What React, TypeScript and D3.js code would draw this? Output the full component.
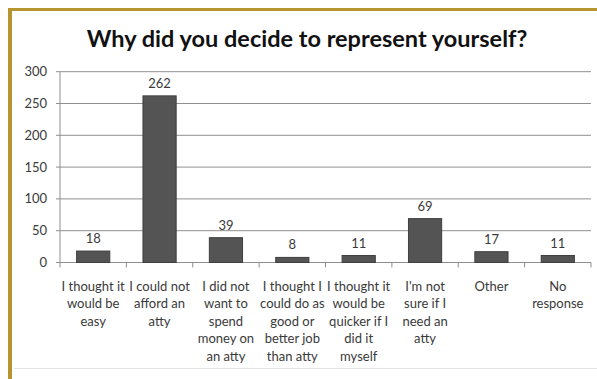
import React from "react";
import * as d3 from "d3";

const categories: string[][] = [
  ["I thought it", "would be", "easy"],
  ["I could not", "afford an", "atty"],
  ["I did not", "want to", "spend", "money on", "an atty"],
  ["I thought I", "could do as", "good or", "better job", "than atty"],
  ["I thought it", "would be", "quicker if I", "did it", "myself"],
  ["I'm not", "sure if I", "need an", "atty"],
  ["Other"],
  ["No", "response"],
];
const values: number[] = [18, 262, 39, 8, 11, 69, 17, 11];
const yTicks: number[] = [0, 50, 100, 150, 200, 250, 300];
const title = "Why did you decide to represent yourself?";

const W = 597;
const H = 379;
const plot = { left: 60, right: 591, top: 71.7, bottom: 262.5 };
const FONT = "Lato, 'Open Sans', sans-serif";

export default function App() {
  const keys = categories.map((_, i) => String(i));
  const x = d3
    .scaleBand<string>()
    .domain(keys)
    .range([plot.left, plot.right])
    .paddingInner(0.5)
    .paddingOuter(0.25);
  const xOuter = d3.scaleBand<string>().domain(keys).range([plot.left, plot.right]);
  const y = d3.scaleLinear().domain([0, 300]).range([plot.bottom, plot.top]);

  return (
    <svg
      width={W}
      height={H}
      style={{ position: "absolute", left: 0, top: 0, background: "#ffffff" }}
    >
      <rect x={0} y={0} width={W} height={H} fill="#ffffff" />
      {/* gold frame */}
      <rect x={8} y={8} width={W - 8} height={3} fill="#b69530" />
      <rect x={8} y={8} width={4} height={H - 8} fill="#b69530" />
      <line x1={14} x2={W} y1={368.5} y2={368.5} stroke="#e4e4e4" strokeWidth={1} />

      <text
        x={307}
        y={47}
        textAnchor="middle"
        fontFamily={FONT}
        fontWeight={700}
        fontSize={23.5}
        fill="#111"
      >
        {title}
      </text>

      {/* gridlines */}
      {yTicks.map((t) => (
        <g key={t}>
          {t > 0 && (
            <line
              x1={plot.left}
              x2={plot.right}
              y1={y(t)}
              y2={y(t)}
              stroke="#8f8f8f"
              strokeWidth={1}
            />
          )}
          <line x1={plot.left - 4} x2={plot.left} y1={y(t)} y2={y(t)} stroke="#8f8f8f" />
          <text
            x={plot.left - 13}
            y={y(t) + 4.5}
            textAnchor="end"
            fontFamily={FONT}
            fontSize={13}
            fill="#3a3a3a"
          >
            {t}
          </text>
        </g>
      ))}

      {/* axes */}
      <line x1={plot.left} x2={plot.left} y1={plot.top} y2={plot.bottom} stroke="#8f8f8f" />
      <line x1={plot.left} x2={plot.right} y1={plot.bottom} y2={plot.bottom} stroke="#8f8f8f" />
      {keys.map((k, i) => {
        const bx = (xOuter(k) as number) + xOuter.bandwidth();
        return (
          <line key={"t" + i} x1={bx} x2={bx} y1={plot.bottom} y2={plot.bottom + 5} stroke="#8f8f8f" />
        );
      })}
      <line x1={plot.left} x2={plot.left} y1={plot.bottom} y2={plot.bottom + 5} stroke="#8f8f8f" />

      {/* bars */}
      {values.map((v, i) => {
        const bx = x(keys[i]) as number;
        return (
          <g key={"b" + i}>
            <rect
              x={bx}
              y={y(v)}
              width={x.bandwidth()}
              height={y(0) - y(v)}
              fill="#545454"
              stroke="#3f3f3f"
              strokeWidth={1}
            />
            <text
              x={bx + x.bandwidth() / 2}
              y={y(v) - 8}
              textAnchor="middle"
              fontFamily={FONT}
              fontSize={13}
              fill="#3a3a3a"
            >
              {v}
            </text>
          </g>
        );
      })}

      {/* category labels */}
      {categories.map((lines, i) => {
        const cx = (xOuter(keys[i]) as number) + xOuter.bandwidth() / 2;
        return (
          <text
            key={"c" + i}
            x={cx}
            y={290.5}
            textAnchor="middle"
            fontFamily={FONT}
            fontSize={13}
            fill="#3a3a3a"
          >
            {lines.map((l, j) => (
              <tspan key={j} x={cx} dy={j === 0 ? 0 : 17.5}>
                {l}
              </tspan>
            ))}
          </text>
        );
      })}
    </svg>
  );
}
